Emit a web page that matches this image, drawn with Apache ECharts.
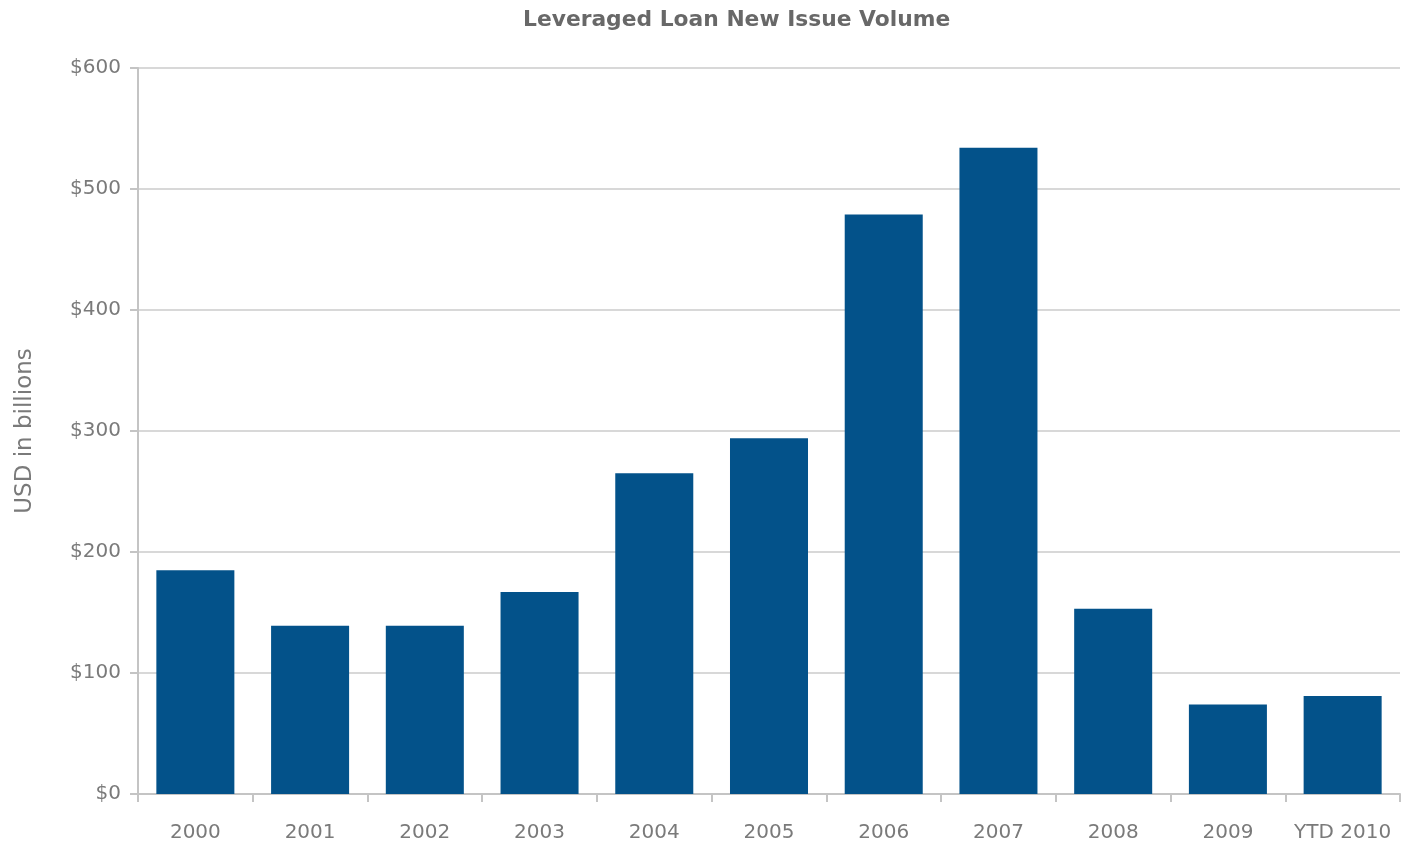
<!DOCTYPE html>
<html>
<head>
<meta charset="utf-8">
<script src="https://cdn.jsdelivr.net/npm/echarts@6/dist/echarts.min.js"></script>
<style>
  html, body { margin: 0; padding: 0; background: #fff; }
  #chart { width: 1401px; height: 845px; }
</style>
</head>
<body>
<div id="chart"></div>
<script>
// Leveraged loan new issue volume, USD billions
const years = ['2000', '2001', '2002', '2003', '2004', '2005', '2006', '2007', '2008', '2009', 'YTD 2010'];
const volume = [185, 139, 139, 167, 265, 294, 479, 534, 153, 74, 81];

const chart = echarts.init(document.getElementById('chart'));
const axisGrey = '#c4c4c4';
const textGrey = '#7a7a7a';
const fontFamily = '"DejaVu Sans", sans-serif';

chart.setOption({
  animation: false,
  title: {
    text: 'Leveraged Loan New Issue Volume',
    left: 518,
    top: 4,
    textStyle: { fontFamily, fontSize: 21.8, fontWeight: 'bold', color: '#686868' }
  },
  grid: { left: 138, right: 1, top: 68, bottom: 51 },
  xAxis: {
    type: 'category',
    data: years,
    axisLine: { lineStyle: { color: axisGrey, width: 2 } },
    axisTick: { show: true, length: 8, lineStyle: { color: axisGrey, width: 2 } },
    axisLabel: { fontFamily, fontSize: 20, color: textGrey, margin: 29, interval: 0 }
  },
  yAxis: {
    type: 'value',
    min: 0,
    max: 600,
    interval: 100,
    name: 'USD in billions',
    nameLocation: 'middle',
    nameGap: 101,
    nameTextStyle: { fontFamily, fontSize: 23, color: textGrey },
    axisLine: { show: true, lineStyle: { color: axisGrey, width: 2 } },
    axisTick: { show: true, length: 8, lineStyle: { color: axisGrey, width: 2 } },
    axisLabel: { fontFamily, fontSize: 20, color: textGrey, margin: 17, formatter: v => '$' + v },
    splitLine: { lineStyle: { color: '#cbcbcb', width: 1.5 } }
  },
  series: [{
    type: 'bar',
    data: volume,
    barCategoryGap: '32%',
    itemStyle: { color: '#03528a' }
  }]
});
</script>
</body>
</html>
